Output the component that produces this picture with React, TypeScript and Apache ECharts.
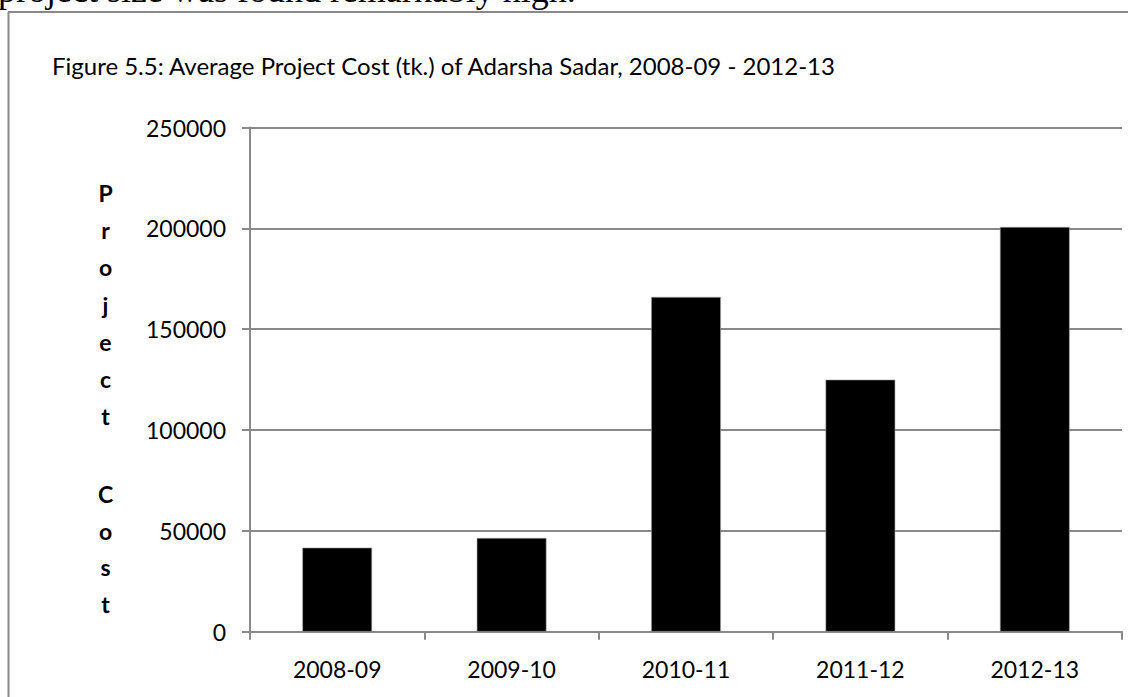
import React, { useEffect, useRef } from "react";
import * as echarts from "echarts";

const categories = ["2008-09", "2009-10", "2010-11", "2011-12", "2012-13"];
const costValues = [41700, 46500, 166000, 125000, 200700];
const yTicks = [0, 50000, 100000, 150000, 200000, 250000];
const titleText = "Figure 5.5: Average Project Cost (tk.) of Adarsha Sadar, 2008-09 - 2012-13";
const yNameWord1 = "P\nr\no\nj\ne\nc\nt";
const yNameWord2 = "C\no\ns\nt";
const bodyText = "project size was found remarkably high.";

export default function App() {
  const ref = useRef<HTMLDivElement>(null);
  useEffect(() => {
    if (!ref.current) return;
    const chart = echarts.init(ref.current, null, { renderer: "svg" });
    const font = "Lato, 'Open Sans', sans-serif";
    const gray = "#898989";
    chart.setOption({
      animation: false,
      backgroundColor: "#ffffff",
      grid: { left: 250, right: 6, top: 127.5, bottom: 65.3, containLabel: false },
      xAxis: {
        type: "category",
        data: categories,
        axisLine: { show: true, lineStyle: { color: gray, width: 2 } },
        axisTick: { show: true, alignWithLabel: false, length: 8, lineStyle: { color: gray, width: 2 } },
        axisLabel: { color: "#000", fontFamily: font, fontSize: 23, margin: 26 },
        splitLine: { show: false },
      },
      yAxis: {
        type: "value",
        min: yTicks[0],
        max: yTicks[yTicks.length - 1],
        interval: yTicks[1] - yTicks[0],
        axisLine: { show: true, lineStyle: { color: gray, width: 2 } },
        axisTick: { show: true, length: 8, lineStyle: { color: gray, width: 2 } },
        axisLabel: {
          color: "#000",
          fontFamily: font,
          fontSize: 23,
          margin: 24,
          formatter: (v: number) => String(v),
        },
        splitLine: { show: true, lineStyle: { color: gray, width: 2 } },
      },
      series: [
        {
          type: "bar",
          data: costValues,
          barWidth: "40%",
          itemStyle: { color: "#000000", borderColor: "#aaaaaa", borderWidth: 0.6 },
        },
      ],
      graphic: [
        {
          type: "text",
          left: -2,
          top: -28,
          style: { text: bodyText, font: "36px 'Liberation Serif', 'DejaVu Serif', serif", fill: "#000" },
          z: 10,
        },
        {
          type: "line",
          shape: { x1: 8, y1: 12, x2: 1128, y2: 12 },
          style: { stroke: gray, lineWidth: 2 },
        },
        {
          type: "line",
          shape: { x1: 8.5, y1: 12, x2: 8.5, y2: 697 },
          style: { stroke: gray, lineWidth: 2 },
        },
        {
          type: "text",
          x: 52,
          y: 65,
          style: {
            text: titleText,
            font: "24px Lato, 'Open Sans', sans-serif",
            fill: "#000",
            verticalAlign: "middle",
            align: "left",
          },
        },
        {
          type: "text",
          x: 105.5,
          y: 304.5,
          style: {
            text: yNameWord1,
            font: "bold 23px Lato, 'Open Sans', sans-serif",
            fill: "#000",
            align: "center",
            verticalAlign: "middle",
            lineHeight: 37.2,
          },
        },
        {
          type: "text",
          x: 105.5,
          y: 549,
          style: {
            text: yNameWord2,
            font: "bold 23px Lato, 'Open Sans', sans-serif",
            fill: "#000",
            align: "center",
            verticalAlign: "middle",
            lineHeight: 36.5,
          },
        },
      ],
    });
    return () => chart.dispose();
  }, []);
  return (
    <div
      ref={ref}
      style={{ position: "absolute", left: 0, top: 0, width: 1128, height: 697 }}
    />
  );
}
